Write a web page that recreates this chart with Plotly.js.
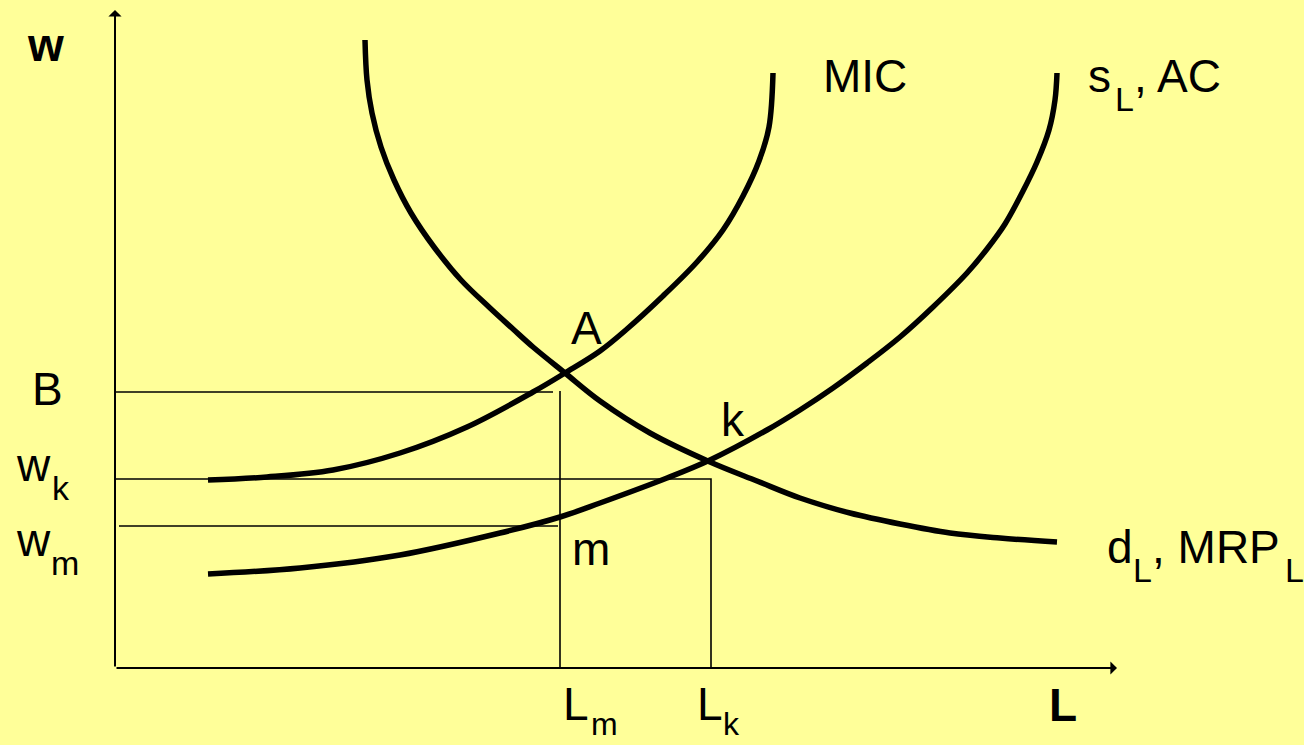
<!DOCTYPE html>
<html>
<head>
<meta charset="utf-8">
<script src="https://cdn.plot.ly/plotly-3.0.1.min.js"></script>
<style>
html,body{margin:0;padding:0;overflow:hidden;background:#ffff99;}
#chart{width:1304px;height:745px;}
</style>
</head>
<body>
<div id="chart"></div>
<script>
// Labour demand curve d_L, MRP_L (L, w)
const demandL = [250, 252, 257, 266, 279, 296, 319, 346, 375, 398, 418, 450, 485, 535, 595, 642, 685, 735, 785, 835, 885, 942];
const demandW = [628, 588, 555, 521, 488, 455, 421, 388, 360, 339, 321, 295, 267, 235, 206, 187, 170, 155, 144, 135, 130, 126];

// Marginal input cost MIC
const micL = [93, 152, 218, 285, 352, 418, 450, 485, 512, 548, 582, 608, 628, 644, 654, 658];
const micW = [188, 191, 198, 215, 241, 276, 295, 317, 339, 372, 406, 438, 472, 507, 541, 595];

// Labour supply s_L, AC
const supplyL = [93, 185, 285, 385, 445, 485, 552, 595, 652, 685, 718, 752, 785, 818, 852, 872, 890, 907, 922, 934, 940, 942];
const supplyW = [94, 100, 113, 135, 151, 165, 190, 208, 238, 258, 280, 305, 331, 361, 395, 419, 444, 475, 506, 538, 568, 595];

// Key levels
const levelB = 276, levelWk = 189, levelWm = 142;
const Lm = 445, Lk = 596;
const axisTopW = 658, axisEndL = 1002;

// Text labels: [main text, subscript]
const labelTexts = {
  w: ["<b>w</b>", ""], B: ["B", ""], wk: ["w", "k"], wm: ["w", "m"],
  A: ["A", ""], k: ["k", ""], m: ["m", ""], MIC: ["MIC", ""],
  sL: ["s", "L"], sLrest: [", AC", ""],
  dL: ["d", "L"], dLrest: [", MRP", "L"],
  Lm: ["L", "m"], Lk: ["L", "k"], L: ["<b>L</b>", ""]
};

// pixel -> data helpers for label placement (origin of the axes at px 115, 668)
const px = v => v - 115;
const py = v => 668 - v;

const thick = {color: "#000", width: 5.5, shape: "spline", smoothing: 1};
const thin = {color: "#000", width: 1.6};

const traces = [
  {x: demandL, y: demandW, mode: "lines", line: thick, hoverinfo: "skip"},
  {x: micL, y: micW, mode: "lines", line: thick, hoverinfo: "skip"},
  {x: supplyL, y: supplyW, mode: "lines", line: thick, hoverinfo: "skip"},
  {x: [0, Lm - 7], y: [levelB, levelB], mode: "lines", line: thin, hoverinfo: "skip"},
  {x: [Lm, Lm], y: [levelB + 1, 0], mode: "lines", line: thin, hoverinfo: "skip"},
  {x: [0, Lk, Lk], y: [levelWk, levelWk, 0], mode: "lines", line: thin, hoverinfo: "skip"},
  {x: [4, Lm - 2], y: [levelWm, levelWm], mode: "lines", line: thin, hoverinfo: "skip"}
];

const F = {family: "Liberation Sans, Arial, sans-serif", size: 46, color: "#000"};
const FS = {family: "Liberation Sans Narrow, Arial Narrow, Liberation Sans, sans-serif", size: 34, color: "#000"};
const FS2 = {family: "Liberation Sans Narrow, Arial Narrow, Liberation Sans, sans-serif", size: 32, color: "#000"};

// main text: glyph left x, baseline y (pixels); optional subscript left x and drop
function lab(key, left, base, subLeft, drop, subFont) {
  const t = labelTexts[key];
  const out = [{x: px(left - 3), y: py(base - 18), xref: "x", yref: "y", text: t[0], showarrow: false,
                xanchor: "left", yanchor: "middle", font: F}];
  if (t[1]) {
    const sf = subFont || FS;
    out.push({x: px(subLeft - 2), y: py(base + (drop || 18) - sf.size * 0.38), xref: "x", yref: "y",
              text: t[1], showarrow: false, xanchor: "left", yanchor: "middle", font: sf});
  }
  return out;
}

const annotations = [
  {x: 0, y: axisTopW, ax: 0, ay: 0, axref: "x", ayref: "y", xref: "x", yref: "y",
   text: "", showarrow: true, arrowhead: 1, arrowsize: 1.1, arrowwidth: 2, arrowcolor: "#000", standoff: 0},
  {x: axisEndL, y: 0, ax: 0, ay: 0, axref: "x", ayref: "y", xref: "x", yref: "y",
   text: "", showarrow: true, arrowhead: 1, arrowsize: 1.1, arrowwidth: 2, arrowcolor: "#000", standoff: 0}
].concat(
  lab("w", 28, 63),
  lab("B", 33, 407),
  lab("wk", 17, 483, 52),
  lab("wm", 17, 558, 51),
  lab("A", 572, 346),
  lab("k", 722, 438),
  lab("m", 573, 567),
  lab("MIC", 824, 94),
  lab("sL", 1089, 94, 1115),
  lab("sLrest", 1135, 94),
  lab("dL", 1108, 565, 1133),
  lab("dLrest", 1153, 565, 1285),
  lab("Lm", 564, 722, 591, 14, FS2),
  lab("Lk", 698, 722, 723, 14, FS2),
  lab("L", 1050, 723)
);

const layout = {
  width: 1304, height: 745,
  margin: {l: 0, r: 0, t: 0, b: 0, pad: 0},
  paper_bgcolor: "#ffff99", plot_bgcolor: "#ffff99",
  showlegend: false,
  xaxis: {range: [-115, 1189], visible: false, fixedrange: true},
  yaxis: {range: [-77, 668], visible: false, fixedrange: true},
  annotations: annotations
};

Plotly.newPlot("chart", traces, layout, {displayModeBar: false, staticPlot: true});
</script>
</body>
</html>
